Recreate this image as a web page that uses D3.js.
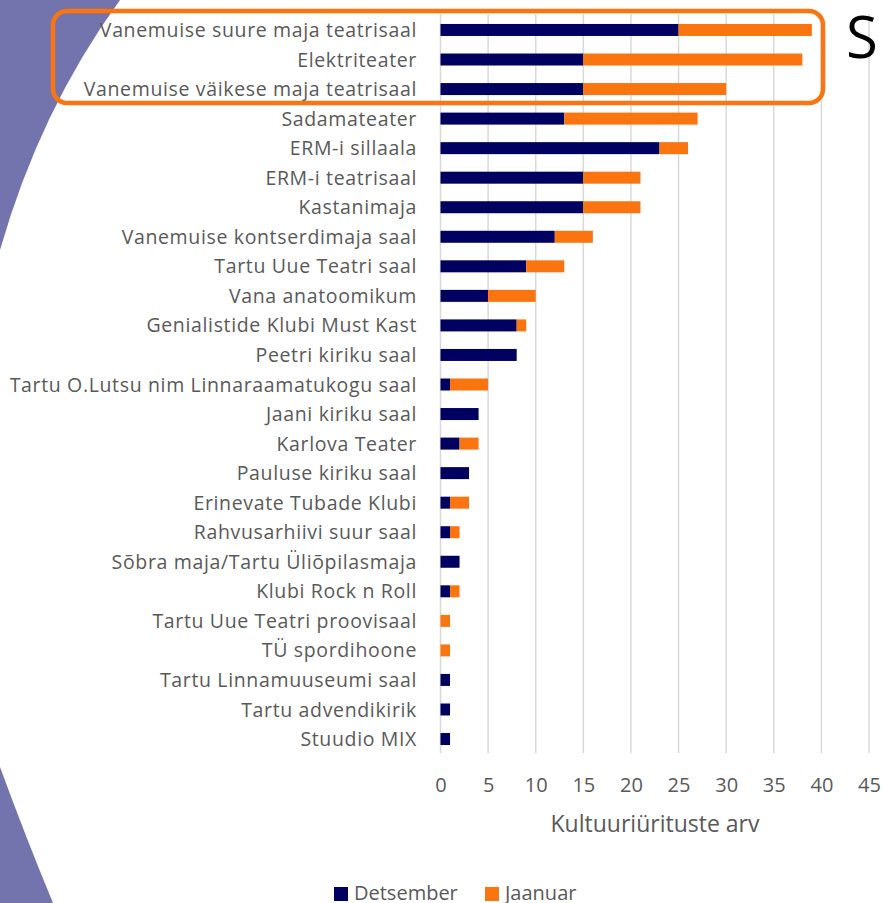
<!DOCTYPE html>
<html>
<head>
<meta charset="utf-8">
<title>Kultuuriüritused</title>
<script src="https://cdn.jsdelivr.net/npm/d3@7"></script>
<style>
  body { margin: 0; background: #fff; }
  text { font-family: "Open Sans", "Noto Sans", sans-serif; }
  .lbl { fill: #595959; font-size: 19.5px; letter-spacing: 0.65px; }
  .tick text { fill: #595959; font-size: 20px; }
  line.grid { stroke: #d9d9d9; stroke-width: 1.5; }
</style>
</head>
<body>
<svg id="chart"></svg>
<script>
var venues = ['Vanemuise suure maja teatrisaal', 'Elektriteater', 'Vanemuise väikese maja teatrisaal',
  'Sadamateater', 'ERM-i sillaala', 'ERM-i teatrisaal', 'Kastanimaja', 'Vanemuise kontserdimaja saal',
  'Tartu Uue Teatri saal', 'Vana anatoomikum', 'Genialistide Klubi Must Kast', 'Peetri kiriku saal',
  'Tartu O.Lutsu nim Linnaraamatukogu saal', 'Jaani kiriku saal', 'Karlova Teater', 'Pauluse kiriku saal',
  'Erinevate Tubade Klubi', 'Rahvusarhiivi suur saal', 'Sõbra maja/Tartu Üliõpilasmaja', 'Klubi Rock n Roll',
  'Tartu Uue Teatri proovisaal', 'TÜ spordihoone', 'Tartu Linnamuuseumi saal', 'Tartu advendikirik', 'Stuudio MIX'];
var detsember = [25, 15, 15, 13, 23, 15, 15, 12, 9, 5, 8, 8, 1, 4, 2, 3, 1, 1, 2, 1, 0, 0, 1, 1, 1];
var jaanuar   = [14, 23, 15, 14, 3, 6, 6, 4, 4, 5, 1, 0, 4, 0, 2, 0, 2, 1, 0, 1, 1, 1, 0, 0, 0];
var xTicks = [0, 5, 10, 15, 20, 25, 30, 35, 40, 45];
var seriesNames = ['Detsember', 'Jaanuar'];
var colors = ['#000060', '#fa750f'];

var width = 883, height = 903;
var svg = d3.select('#chart').attr('width', width).attr('height', height);

// purple decoration on the left
svg.append('path').attr('d', 'M0,0 L120,0 Q40,110 0,250 Z').attr('fill', '#7373ae');
svg.append('path').attr('d', 'M0,767 Q26,838 53,903 L0,903 Z').attr('fill', '#7373ae');

var x = d3.scaleLinear().domain([0, 45]).range([440.5, 869]);
var y = d3.scaleBand().domain(venues).range([15.2, 753.8]).paddingInner(0.594).paddingOuter(0.297);

// gridlines
svg.selectAll('line.grid')
  .data(xTicks)
  .enter()
  .append('line')
  .attr('class', 'grid')
  .attr('x1', d => x(d)).attr('x2', d => x(d))
  .attr('y1', 14).attr('y2', 753);

var rows = venues.map((v, i) => ({ name: v, Detsember: detsember[i], Jaanuar: jaanuar[i] }));
var stacked = d3.stack().keys(seriesNames)(rows);

svg.selectAll('g.series')
  .data(stacked)
  .enter()
  .append('g')
  .attr('fill', (d, i) => colors[i])
  .selectAll('rect')
  .data(d => d.filter(s => s[1] > s[0]))
  .enter()
  .append('rect')
  .attr('x', d => x(d[0]))
  .attr('width', d => x(d[1]) - x(d[0]))
  .attr('y', d => y(d.data.name))
  .attr('height', y.bandwidth());

// category labels
svg.selectAll('text.lbl')
  .data(venues)
  .enter()
  .append('text')
  .attr('class', 'lbl')
  .attr('x', 417)
  .attr('y', d => y(d) + y.bandwidth() / 2)
  .attr('dy', '0.36em')
  .attr('text-anchor', 'end')
  .text(d => d);

// x axis labels
var xAxis = d3.axisBottom(x).tickValues(xTicks).tickSize(0).tickPadding(0);
var gx = svg.append('g').attr('transform', 'translate(0,792)').call(xAxis);
gx.select('.domain').remove();
gx.selectAll('text').attr('dy', '0em');

svg.append('text')
  .attr('x', 655).attr('y', 832)
  .attr('text-anchor', 'middle')
  .style('font-size', '23px').style('fill', '#595959')
  .text('Kultuuriürituste arv');

// legend
var legend = svg.selectAll('g.legend')
  .data(seriesNames)
  .enter()
  .append('g')
  .attr('transform', (d, i) => 'translate(' + [334, 485][i] + ',887)');
legend.append('rect').attr('width', 14).attr('height', 14).attr('fill', (d, i) => colors[i]);
legend.append('text')
  .attr('x', 20).attr('y', 13)
  .style('font-size', '20px').style('fill', '#595959')
  .text(d => d);

// highlight box around top three
svg.append('rect')
  .attr('x', 53).attr('y', 11)
  .attr('width', 770).attr('height', 92)
  .attr('rx', 14)
  .attr('fill', 'none')
  .attr('stroke', '#fa750f')
  .attr('stroke-width', 4.5);

svg.append('text')
  .attr('x', 846).attr('y', 58)
  .style('font-size', '58px').style('fill', '#000')
  .text('S');
</script>
</body>
</html>
